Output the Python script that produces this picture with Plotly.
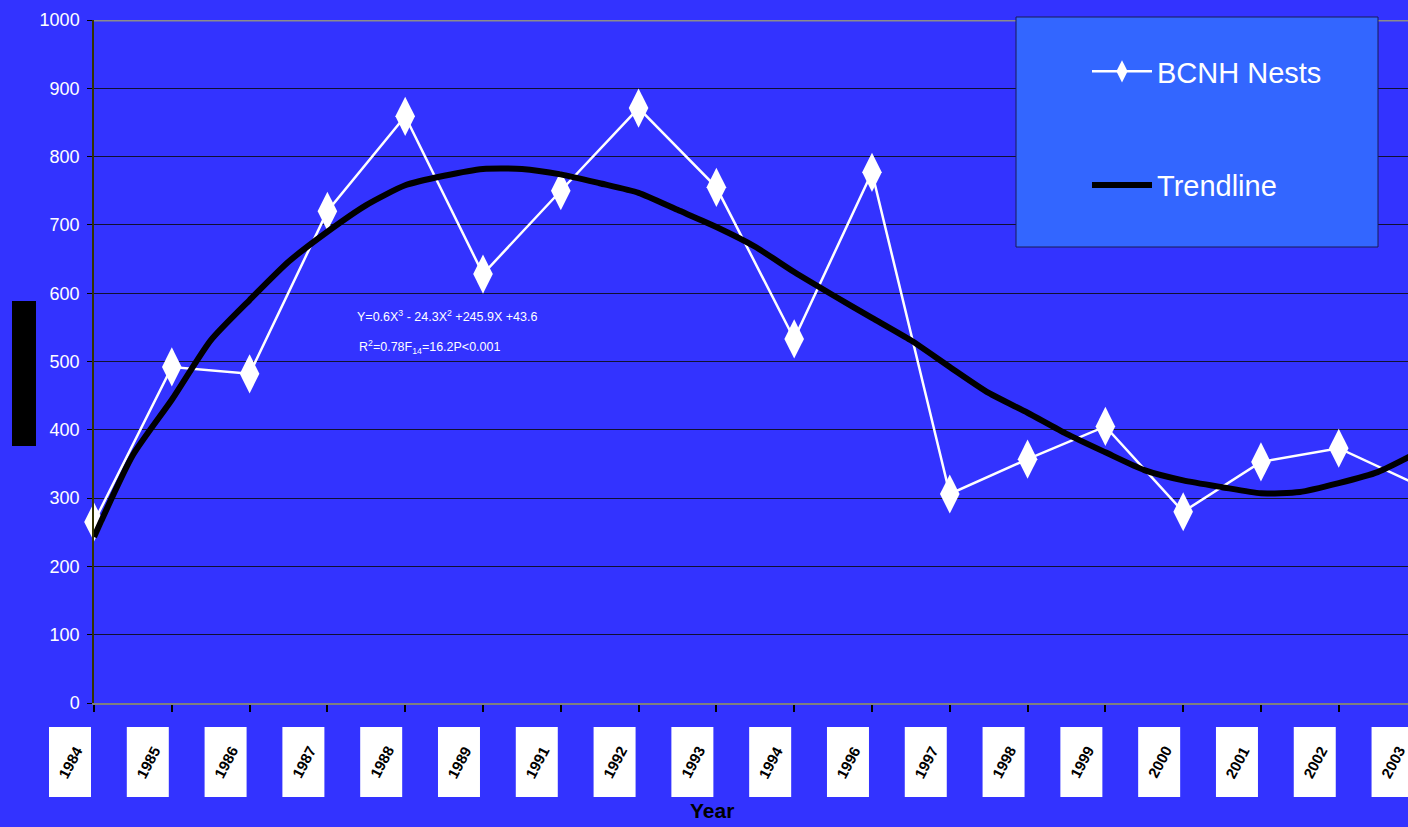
import plotly.graph_objects as go

# ---------------- data ----------------
YEARS = ["1984", "1985", "1986", "1987", "1988", "1989", "1991", "1992", "1993",
         "1994", "1996", "1997", "1998", "1999", "2000", "2001", "2002", "2003"]
NESTS = [265, 492, 482, 720, 859, 628, 750, 871, 755, 533, 777, 306, 357, 405,
         280, 353, 373, 320]
# polynomial trendline at half-year-index steps
TREND_X = [0, 0.5, 1, 1.5, 2, 2.5, 3, 3.5, 4, 4.5, 5, 5.5, 6, 6.5, 7, 7.5, 8, 8.5,
           9, 9.5, 10, 10.5, 11, 11.5, 12, 12.5, 13, 13.5, 14, 14.5, 15, 15.5,
           16, 16.5, 17]
TREND_Y = [243, 363, 444, 531, 590, 646, 690, 729, 758, 772, 782, 782, 774, 761,
           747, 722, 697, 668, 631, 597, 564, 531, 492, 454, 425, 394, 367, 341,
           326, 316, 307, 309, 322, 338, 366]
Y_TICKS = [0, 100, 200, 300, 400, 500, 600, 700, 800, 900, 1000]
EQ_LINE1 = "Y=0.6X<sup>3</sup> - 24.3X<sup>2</sup> +245.9X +43.6"
EQ_LINE2 = "R<sup>2</sup>=0.78F<sub>14</sub>=16.2P<0.001"

X_MAX = 16.89  # visible part of the category axis
BG = "#3333FF"
NARROW = "Liberation Sans Narrow, Arial Narrow, Liberation Sans, Arial"

x_idx = list(range(len(YEARS)))

fig = go.Figure()
fig.add_trace(go.Scatter(
    x=x_idx, y=NESTS, mode="lines+markers", name="BCNH Nests",
    line=dict(color="white", width=2.5),
    marker=dict(symbol="diamond-tall", size=28, color="white"),
    cliponaxis=False, legendgroup="a"))
fig.add_trace(go.Scatter(
    x=TREND_X, y=TREND_Y, mode="lines", name="Trendline",
    line=dict(color="black", width=6, shape="spline", smoothing=0.6),
    legendgroup="b"))

shapes = [
    # grey top line at 1000
    dict(type="line", xref="paper", yref="y", x0=0, x1=1, y0=1000, y1=1000,
         line=dict(color="#8c8c8c", width=3), layer="above"),
    # legend box
    dict(type="rect", xref="paper", yref="paper",
         x0=(1016 - 94) / 1314, x1=(1378 - 94) / 1314,
         y0=(703 - 247) / 683, y1=(703 - 17) / 683,
         fillcolor="#3366FF", line=dict(color="#1a1a55", width=1), layer="above"),
]

annotations = []
for i, yr in enumerate(YEARS):
    px = i / X_MAX
    # white label box
    shapes.append(dict(
        type="rect", xref="paper", yref="paper",
        xsizemode="pixel", xanchor=px, x0=-45, x1=-3,
        ysizemode="pixel", yanchor=0, y0=-24, y1=-94,
        fillcolor="white", line=dict(width=0), layer="above"))
    annotations.append(dict(
        xref="paper", yref="paper", x=px, y=(703 - 762) / 683, xshift=-24,
        text="<b>" + yr + "</b>", showarrow=False, textangle=-62,
        font=dict(family=NARROW, size=15, color="black"),
        xanchor="center", yanchor="middle"))

annotations += [
    dict(xref="paper", yref="paper", x=(712 - 94) / 1314, y=(703 - 811) / 683,
         text="<b>Year</b>", showarrow=False,
         font=dict(family=NARROW, size=21, color="black"),
         xanchor="center", yanchor="middle"),
    dict(xref="paper", yref="paper", x=(23.5 - 94) / 1314, y=(703 - 374) / 683,
         text="Number of Nests", showarrow=False, textangle=-90,
         width=142, height=21, bgcolor="black",
         font=dict(family=NARROW, size=16, color="black"),
         xanchor="center", yanchor="middle"),
    dict(xref="paper", yref="paper", x=(355 - 94) / 1314, y=(703 - 316) / 683,
         text=EQ_LINE1, showarrow=False, xanchor="left", yanchor="middle",
         font=dict(family=NARROW, size=12.5, color="white")),
    dict(xref="paper", yref="paper", x=(357 - 94) / 1314, y=(703 - 347) / 683,
         text=EQ_LINE2, showarrow=False, xanchor="left", yanchor="middle",
         font=dict(family=NARROW, size=12.5, color="white")),
]

fig.update_layout(
    width=1408, height=827,
    margin=dict(l=94, r=0, t=20, b=124),
    paper_bgcolor=BG, plot_bgcolor=BG,
    showlegend=True,
    legend=dict(
        x=(1087 - 94) / 1314, y=(703 - 46) / 683, xanchor="left", yanchor="top",
        bgcolor="rgba(0,0,0,0)", borderwidth=0,
        font=dict(family=NARROW, size=29, color="white"),
        traceorder="grouped", tracegroupgap=73, itemwidth=60),
    shapes=shapes,
    annotations=annotations,
    xaxis=dict(
        range=[0, X_MAX], tickmode="array", tickvals=x_idx, showticklabels=False,
        showgrid=False, zeroline=False, showline=True, linecolor="#7f7f7f",
        linewidth=2, ticks="outside", ticklen=7, tickcolor="black", tickwidth=1.5),
    yaxis=dict(
        range=[0, 1000], tickmode="array", tickvals=Y_TICKS,
        showgrid=True, gridcolor="#111133", gridwidth=1, zeroline=False,
        showline=True, linecolor="#333300", linewidth=1.5,
        ticks="outside", ticklen=5, tickcolor="black", ticklabelstandoff=4,
        tickfont=dict(family=NARROW, size=18, color="white")),
)

fig.write_html("out.html", config={"displayModeBar": False},
               post_script="document.body.style.margin='0';document.body.style.overflow='hidden';")
